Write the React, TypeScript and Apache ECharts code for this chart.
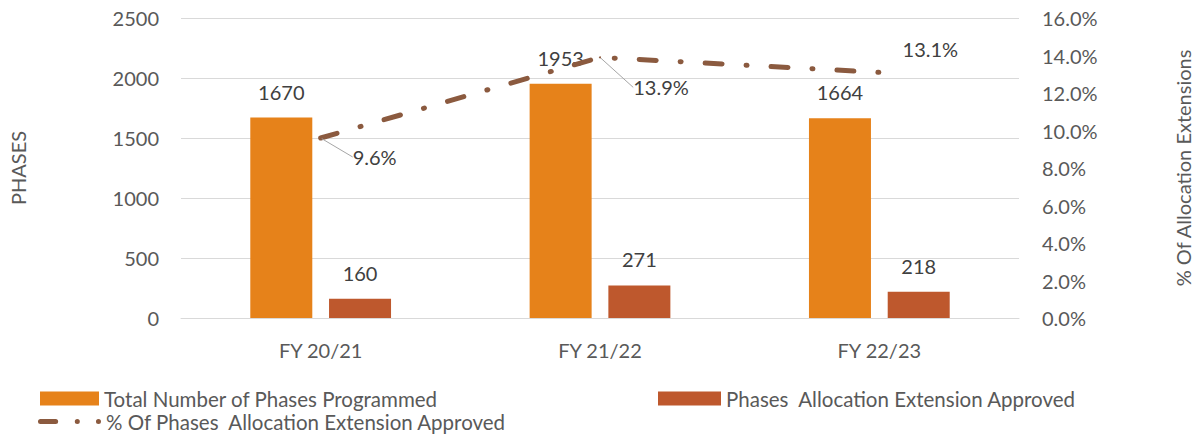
import React, { useEffect, useRef } from "react";
import * as echarts from "echarts";

const categories = ["FY 20/21", "FY 21/22", "FY 22/23"];
const totalPhases = [1670, 1953, 1664];
const extensionsApproved = [160, 271, 218];
const extensionPct = [9.6, 13.9, 13.1];

const leftMax = 2500;
const leftStep = 500;
const rightMax = 16;
const rightStep = 2;

const seriesNames = [
  "Total Number of Phases Programmed",
  "Phases  Allocation Extension Approved",
  "% Of Phases  Allocation Extension Approved",
];

const FONT = "Lato";
const ORANGE = "#E6821A";
const RUST = "#BE582D";
const BROWN = "#8B5A3F";
const AXIS_TEXT = "#595959";
const LABEL_TEXT = "#404040";
const GRID = "#D9D9D9";

// per-point label offsets (dx, dy) from the point, and whether leader line is drawn
const labelOffsets = [
  [54, 19, true],
  [61, 30, true],
  [51, -23, false],
];

const lineIcon =
  "path://M2.5,4.5 L17.5,4.5 A2.5,2.5 0 0 1 17.5,9.5 L2.5,9.5 A2.5,2.5 0 0 1 2.5,4.5 Z " +
  "M36.5,7 A2.5,2.5 0 1 0 41.5,7 A2.5,2.5 0 1 0 36.5,7 Z " +
  "M57.5,7 A2.5,2.5 0 1 0 62.5,7 A2.5,2.5 0 1 0 57.5,7 Z";

export default function App() {
  const ref = useRef<HTMLDivElement>(null);

  useEffect(() => {
    if (!ref.current) return;
    const chart = echarts.init(ref.current, null, { renderer: "svg" });
    const textBase = { fontFamily: FONT, fontSize: 20 };
    const legendText = { fontFamily: FONT, fontSize: 20.5, color: AXIS_TEXT };

    const lineData = extensionPct.map((v, i) => ({
      value: v,
      labelLine: { show: labelOffsets[i][2] as boolean },
    }));

    chart.setOption({
      animation: false,
      textStyle: { fontFamily: FONT },
      grid: { left: 181, right: 182, top: 18, bottom: 122, containLabel: false },
      legend: [
        {
          left: 40,
          top: 388,
          padding: 0,
          itemWidth: 59,
          itemHeight: 14,
          textStyle: legendText,
          data: [{ name: seriesNames[0], icon: "rect" }],
        },
        {
          left: 658,
          top: 388,
          padding: 0,
          itemWidth: 63,
          itemHeight: 14,
          textStyle: legendText,
          data: [{ name: seriesNames[1], icon: "rect" }],
        },
        {
          left: 38,
          top: 411,
          padding: 0,
          itemWidth: 63,
          itemHeight: 14,
          textStyle: legendText,
          data: [{ name: seriesNames[2], icon: lineIcon }],
        },
      ],
      xAxis: {
        type: "category",
        data: categories,
        axisLine: { show: true, lineStyle: { color: GRID, width: 1 } },
        axisTick: { show: false },
        axisLabel: { ...textBase, color: AXIS_TEXT, margin: 22 },
      },
      yAxis: [
        {
          type: "value",
          min: 0,
          max: leftMax,
          interval: leftStep,
          name: "PHASES",
          nameLocation: "middle",
          nameRotate: 90,
          nameGap: 153,
          nameTextStyle: { ...textBase, color: AXIS_TEXT },
          axisLine: { show: false },
          axisTick: { show: false },
          axisLabel: {
            ...textBase,
            color: AXIS_TEXT,
            margin: 22,
            formatter: (v: number) => String(v),
          },
          splitLine: { lineStyle: { color: GRID, width: 1 } },
        },
        {
          type: "value",
          min: 0,
          max: rightMax,
          interval: rightStep,
          name: "% Of Allocation Extensions",
          nameLocation: "middle",
          nameRotate: 90,
          nameGap: 154,
          nameTextStyle: { ...textBase, color: AXIS_TEXT },
          axisLine: { show: false },
          axisTick: { show: false },
          axisLabel: {
            ...textBase,
            color: AXIS_TEXT,
            margin: 23,
            formatter: (v: number) => v.toFixed(1) + "%",
          },
          splitLine: { show: false },
        },
      ],
      series: [
        {
          name: seriesNames[0],
          type: "bar",
          data: totalPhases,
          barWidth: 62,
          barGap: "27%",
          itemStyle: { color: ORANGE },
          label: {
            show: true,
            position: "top",
            distance: 16,
            ...textBase,
            color: LABEL_TEXT,
          },
        },
        {
          name: seriesNames[1],
          type: "bar",
          data: extensionsApproved,
          barWidth: 62,
          itemStyle: { color: RUST },
          label: {
            show: true,
            position: "top",
            distance: 16,
            ...textBase,
            color: LABEL_TEXT,
          },
        },
        {
          name: seriesNames[2],
          type: "line",
          yAxisIndex: 1,
          data: lineData,
          color: BROWN,
          symbol: "circle",
          symbolSize: 2,
          showSymbol: true,
          z: 5,
          lineStyle: {
            color: BROWN,
            width: 5,
            cap: "round",
            type: [17, 24, 1, 24],
          },
          label: {
            show: true,
            position: "inside",
            ...textBase,
            color: LABEL_TEXT,
            formatter: (p: any) => Number(p.value).toFixed(1) + "%",
          },
          labelLine: {
            show: true,
            lineStyle: { color: "#A6A6A6", width: 1 },
          },
          labelLayout: (params: any) => {
            const [dx, dy, leader] = labelOffsets[params.dataIndex] as any;
            const px = params.rect.x + params.rect.width / 2;
            const py = params.rect.y + params.rect.height / 2;
            const lr = params.labelRect;
            const newLeft = lr.x + dx;
            const newCy = lr.y + lr.height / 2 + dy;
            const res: any = { dx, dy };
            if (leader) {
              res.labelLinePoints = [
                [px, py],
                [px + 11.5, newCy],
                [newLeft - 9, newCy],
              ];
            }
            return res;
          },
        },
      ],
    });

    return () => chart.dispose();
  }, []);

  return (
    <div
      ref={ref}
      style={{ position: "fixed", left: 0, top: 0, width: 1201, height: 440, background: "#fff" }}
    />
  );
}
